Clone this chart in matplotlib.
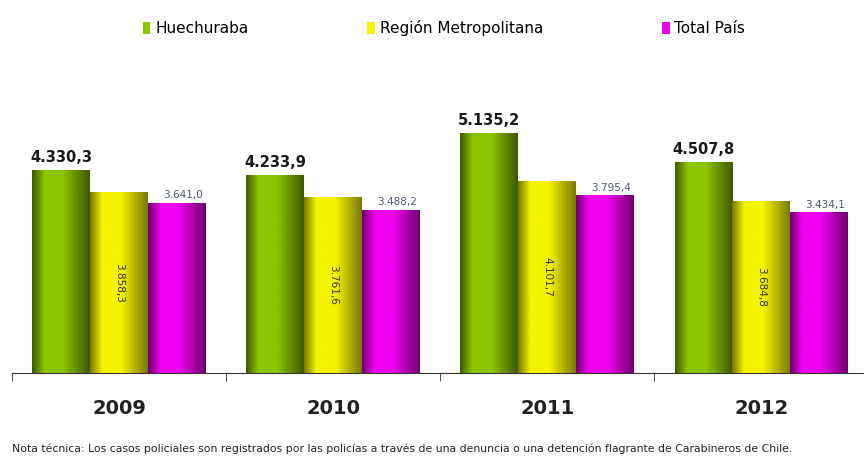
import matplotlib.pyplot as plt
from matplotlib.colors import LinearSegmentedColormap
import numpy as np

years = ["2009", "2010", "2011", "2012"]
huechuraba = [4330.3, 4233.9, 5135.2, 4507.8]
region_metro = [3858.3, 3761.6, 4101.7, 3684.8]
total_pais = [3641.0, 3488.2, 3795.4, 3434.1]
series_names = ["Huechuraba", "Región Metropolitana", "Total País"]


def fmt(v):
    s = f"{v:,.1f}"
    return s.replace(",", "X").replace(".", ",").replace("X", ".")


def shade(base, dark):
    return LinearSegmentedColormap.from_list(
        "s", [dark, base, base, dark], N=256)


colors = ["#8cc400", "#f5f500", "#f000f0"]
darks = ["#3f5a00", "#7a7a00", "#700070"]
cmaps = [shade(c, d) for c, d in zip(colors, darks)]

fig = plt.figure(figsize=(8.64, 4.59), dpi=100)
ax = fig.add_axes([12 / 864, 1 - 373 / 459, 1 - 12 / 864, 280 / 459])

x = np.arange(len(years))
w = 0.27
grad = np.concatenate([np.linspace(0, 0.45, 30), np.linspace(0.5, 1, 70)])[None, :]

for i, (vals, cm) in enumerate(zip([huechuraba, region_metro, total_pais], cmaps)):
    xs = x + (i - 1) * w
    bars = ax.bar(xs, vals, w, color=colors[i], label=series_names[i], zorder=2)
    for b in bars:
        ax.imshow(grad, cmap=cm, aspect="auto", zorder=3,
                  extent=[b.get_x(), b.get_x() + b.get_width(), 0, b.get_height()])
    for xi, v in zip(xs, vals):
        if i == 0:
            ax.text(xi, v + 120, fmt(v), ha="center", va="bottom",
                    fontsize=10.5, fontweight="bold", color="#1a1a1a")
        elif i == 1:
            ax.text(xi, v * 0.5, fmt(v), ha="center", va="center", rotation=270,
                    fontsize=7.5, color="#333333", zorder=4)
        else:
            ax.text(xi + 0.03, v + 60, fmt(v), ha="center", va="bottom",
                    fontsize=7.5, color="#4a5a70")

ax.set_xlim(-0.5, 3.48)
ax.set_ylim(0, 6000)
ax.set_xticks(x)
ax.set_xticklabels(years, fontsize=14, fontweight="bold", color="#222222")
ax.set_xticks(np.arange(-0.5, 3.5, 1), minor=True)
ax.tick_params(axis="x", which="major", length=0, pad=19)
ax.tick_params(axis="x", which="minor", length=6, color="#333333", direction="out")
ax.set_yticks([])
for s in ["left", "right", "top"]:
    ax.spines[s].set_visible(False)
ax.spines["bottom"].set_color("#333333")

handles, labels = ax.get_legend_handles_labels()
fig.legend(handles, labels, loc="center", bbox_to_anchor=(0.514, 1 - 28 / 459),
           ncol=3, frameon=False, fontsize=11, handlelength=0.5, handleheight=0.8,
           handletextpad=0.3, columnspacing=7.8)

fig.text(12 / 864, 1 - 449 / 459,
         "Nota técnica: Los casos policiales son registrados por las policías a través "
         "de una denuncia o una detención flagrante de Carabineros de Chile.",
         fontsize=7.8, color="#222222", va="center")

plt.savefig("out.png", dpi=100)
